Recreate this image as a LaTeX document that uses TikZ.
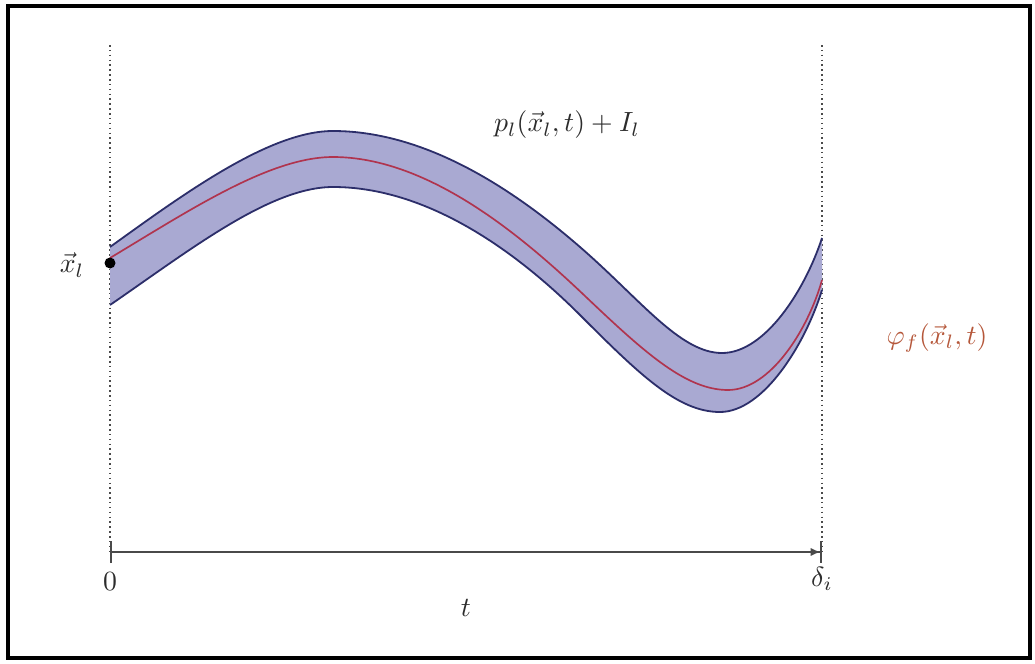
\documentclass[tikz,border=0pt]{standalone}
\usepackage{amsmath, amssymb}
\usepackage{xcolor}
\usepackage{tikz}
\usetikzlibrary{arrows.meta, positioning}
\definecolor{bandfill}{HTML}{A9A9D2}
\definecolor{bandline}{HTML}{2C2E6A}
\definecolor{flowred}{HTML}{B0344E}
\definecolor{flowlabel}{HTML}{B5573A}
\definecolor{axisgrey}{HTML}{4A4A4A}

\begin{document}
\begin{tikzpicture}[x=0.36pt, y=-0.36pt,
    window/.style={axisgrey, line width=0.55pt, dash pattern=on 0.55pt off 1.2pt},
    bandedge/.style={bandline, line width=0.65pt},
    lbl/.style={font=\normalsize, axisgrey!60!black}]
      \useasboundingbox (0,0) rectangle (1035,663);
      \draw[black, line width=1.3pt] (8,6) rectangle (1030,658);
      % time window
      \coordinate (ltop) at (110,45);
      \coordinate (lbot) at (110,552);
      \coordinate (rtop) at (822,45);
      \coordinate (rbot) at (822,552);
      \draw[window] (ltop) -- (lbot);
      \draw[window] (rtop) -- (rbot);
      \draw[axisgrey, line width=0.6pt, {Bar[width=8pt]}-{Latex[length=3.5pt,width=3pt]Bar[width=8pt]}] (lbot) -- (rbot);
      \node[lbl] (zero) at (110,582) {$0$};
      \node[lbl] (delta) at (822,579) {$\delta_i$};
      \node[lbl] (tlab) at (466,608) {$t$};
      % uncertainty band
      \fill[bandfill] (110,247) .. controls (185,193) and (270,131) .. (333,131)
        .. controls (430,131) and (520,195) .. (580,247)
        .. controls (640,299) and (680,353) .. (722,353)
        .. controls (765,353) and (805,290) .. (822,238)
        -- (822,290) .. controls (805,345) and (763,412) .. (720,412)
        .. controls (678,412) and (640,375) .. (580,315)
        .. controls (520,255) and (430,187) .. (333,187)
        .. controls (270,187) and (190,250) .. (110,305) -- cycle;
      \draw[bandedge] (110,247) .. controls (185,193) and (270,131) .. (333,131)
        .. controls (430,131) and (520,195) .. (580,247)
        .. controls (640,299) and (680,353) .. (722,353)
        .. controls (765,353) and (805,290) .. (822,238);
      \draw[bandedge] (110,305) .. controls (190,250) and (270,187) .. (333,187)
        .. controls (430,187) and (520,255) .. (580,315)
        .. controls (640,375) and (678,412) .. (720,412)
        .. controls (763,412) and (805,345) .. (822,290);
      \draw[flowred, line width=0.6pt] (110,258) .. controls (190,210) and (270,157) .. (333,157)
        .. controls (430,157) and (525,239) .. (585,296)
        .. controls (645,353) and (686,390) .. (728,390)
        .. controls (770,390) and (808,330) .. (822,280);
      % initial state
      \fill[black] (110,263) circle (5.5);
      \node[lbl] (xlab) at (72,265) {$\vec{x}_l$};
      \node[lbl] (plab) at (567,125) {$p_l(\vec{x}_l,t) + I_l$};
      \node[font=\normalsize, flowlabel] (flab) at (937,338) {$\varphi_f(\vec{x}_l,t)$};
    \end{tikzpicture}
\end{document}
